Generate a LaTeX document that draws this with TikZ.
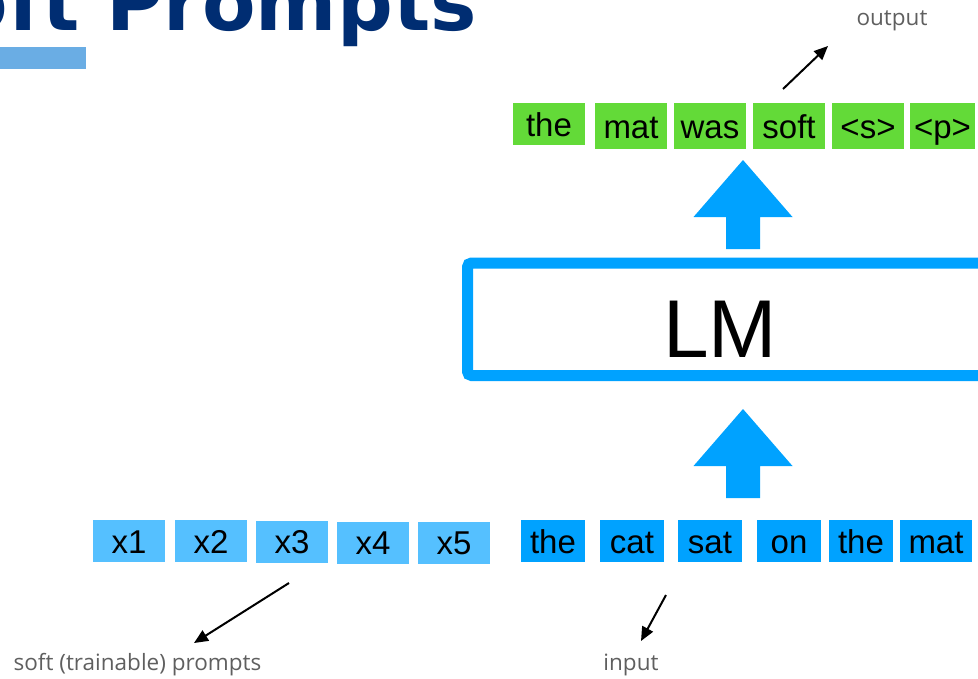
\documentclass[tikz,border=0pt]{standalone}
\usepackage{fontspec}
\setmainfont{Liberation Sans}
\newfontfamily\labelfont{Open Sans}
\newfontfamily\titlefont{DejaVu Sans}
\usetikzlibrary{arrows.meta}
\definecolor{outgreen}{RGB}{99,218,56}
\definecolor{inblue}{RGB}{0,162,255}
\definecolor{softblue}{RGB}{85,192,255}
\definecolor{titleblue}{RGB}{0,45,114}
\definecolor{barblue}{RGB}{106,173,228}
\definecolor{lblgray}{RGB}{95,95,95}
\tikzset{
tok/.style={inner sep=0pt, minimum width=72pt, minimum height=46pt, text height=24pt, text depth=0pt, font=\fontsize{33}{38}\selectfont},
outtok/.style={tok, fill=outgreen},
intok/.style={tok, fill=inblue, minimum width=64pt, minimum height=42pt},
softtok/.style={tok, fill=softblue, minimum height=42pt},
lbl/.style={anchor=base, text=lblgray, inner sep=0pt, font=\labelfont\fontsize{22.5}{26}\selectfont},
hand/.style={-{Triangle[length=14pt,width=12pt]}, line width=2pt, black},
bigup/.pic={\fill[inblue] (0,0)--(49.5,57)--(17,57)--(17,89)--(-17,89)--(-17,57)--(-49.5,57)--cycle;}
}
\begin{document}
\begin{tikzpicture}[x=1pt,y=-1pt]
\useasboundingbox (0,0) rectangle (978,678);
\clip (0,0) rectangle (978,678);
\node[anchor=base east, text=titleblue, inner sep=0pt, font=\titlefont\bfseries\fontsize{78}{90}\selectfont] (title) at (477,30) {Soft Prompts};
\fill[barblue] (0,47) rectangle (86,69);
\node[outtok, minimum height=42pt] (o1) at (549,124) {the};
\node[outtok] (o2) at (631,126) {mat};
\node[outtok] (o3) at (710,126) {was};
\node[outtok] (o4) at (789,126) {soft};
\node[outtok] (o5) at (868,126) {<s>};
\node[outtok, minimum width=65pt] (o6) at (942.5,126) {<p>};
\pic at (743,160) {bigup};
\draw[inblue, line width=11pt, rounded corners=4pt] (467.5,263) rectangle (995,375.5);
\node[inner sep=0pt, font=\fontsize{82}{90}\selectfont] (lm) at (720,329) {LM};
\pic at (743,409) {bigup};
\node[softtok] (x1) at (129,541) {x1};
\node[softtok] (x2) at (211,541) {x2};
\node[softtok] (x3) at (292,541.5) {x3};
\node[softtok] (x4) at (373,542.5) {x4};
\node[softtok] (x5) at (454,542.5) {x5};
\node[intok] (i1) at (553,541) {the};
\node[intok] (i2) at (632,541) {cat};
\node[intok] (i3) at (710,541) {sat};
\node[intok] (i4) at (789,541) {on};
\node[intok] (i5) at (861,541) {the};
\node[intok, minimum width=72pt] (i6) at (936,541) {mat};
\node[lbl] (outlbl) at (892,25) {output};
\coordinate (outtail) at (783,89);
\coordinate (outtip) at (828,46);
\draw[hand] (outtail) -- (outtip);
\node[lbl] (softlbl) at (137.5,670) {soft (trainable) prompts};
\coordinate (softtail) at (289,583);
\coordinate (softtip) at (194,643);
\draw[hand] (softtail) -- (softtip);
\node[lbl] (inlbl) at (631,670) {input};
\coordinate (intail) at (666,595);
\coordinate (intip) at (641,641);
\draw[hand] (intail) -- (intip);
\end{tikzpicture}
\end{document}
